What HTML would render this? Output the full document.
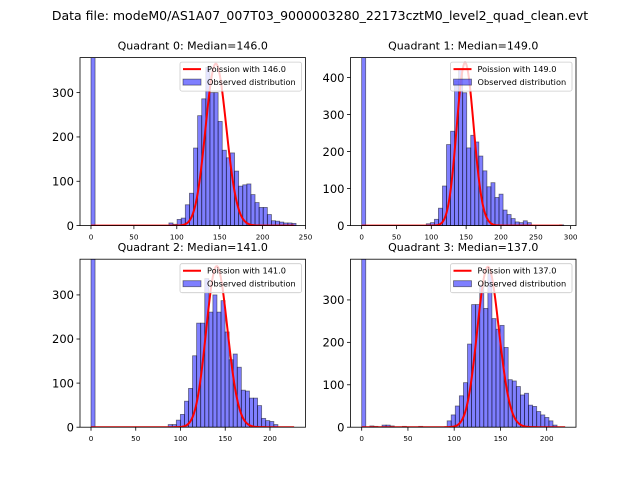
<!DOCTYPE html>
<html><head><meta charset="utf-8"><style>
body{margin:0;background:#fff}
svg{display:block;font-family:"DejaVu Sans","Liberation Sans",sans-serif}
</style></head><body>
<svg id="fig" width="640" height="480" viewBox="0 0 640 480">
<rect width="640" height="480" fill="#fff"/>
<text x="320" y="20" font-size="12.5" text-anchor="middle">Data file: modeM0/AS1A07_007T03_9000003280_22173cztM0_level2_quad_clean.evt</text>
</svg>
<script>
const q0Counts=[2000,0,0,0,0,0,0,0,0,0,0,0,0,0,0,0,0,0,0,6,3,14,17,47,73,175,248,286,357,300,300,235,170,153,164,123,89,92,94,70,52,41,41,25,11,10,8,6,6,5];
const q1Counts=[2000,0,0,0,0,0,0,0,0,0,0,0,0,0,0,0,5,8,17,47,107,219,255,391,422,359,210,244,226,188,148,105,116,76,85,42,30,19,10,8,13,8,0,0,0,0,0,0,0,2];
const q2Counts=[2000,0,0,0,0,0,0,0,0,0,0,0,0,0,0,0,0,0,0,6,6,16,29,59,88,162,236,236,337,261,300,261,287,216,153,166,136,84,82,66,66,49,20,15,13,6,0,0,0,0];
const q3Counts=[2000,0,3,2,0,5,5,3,0,0,2,0,0,0,2,0,0,0,0,0,0,15,29,50,74,105,196,289,289,335,280,362,256,231,240,188,112,109,96,76,80,52,49,37,29,23,15,5,0,0];
const medians=[146.0,149.0,141.0,137.0];
const binWidths=[4.78,5.8,4.54,4.4];
const curvePeaks=[365,440,365,378];
const curveMax=[237,288,227,220];
const xTicks=[[0,50,100,150,200,250],[0,50,100,150,200,250,300],[0,50,100,150,200],[0,50,100,150,200]];
const yTicks=[[0,100,200,300],[0,100,200,300,400],[0,100,200,300],[0,100,200,300]];
const xLims=[[-12.8,250],[-16,307.7],[-12.3,239.7],[-12.1,231.7]];
const yLims=[[0,379],[0,454],[0,381],[0,396]];
const allCounts=[q0Counts,q1Counts,q2Counts,q3Counts];

const NS="http://www.w3.org/2000/svg";
const svg=document.getElementById('fig');
function mk(tag,attrs,parent){const e=document.createElementNS(NS,tag);for(const k in attrs)e.setAttribute(k,attrs[k]);(parent||svg).appendChild(e);return e;}
function lgamma(z){
  if(z<7){let p=1;while(z<7){p*=z;z+=1;}return lgamma(z)-Math.log(p);}
  return (z-0.5)*Math.log(z)-z+0.5*Math.log(2*Math.PI)+1/(12*z)-1/(360*z*z*z);
}
function logPois(k,l){return k*Math.log(l)-l-lgamma(k+1);}

const boxes=[[80,57.6],[350.5,57.6],[80,259.2],[350.5,259.2]];
const W=225.5,H=168;
for(let q=0;q<4;q++){
  const [L,T]=boxes[q];
  const g=mk('g',{});
  
  
  const xs=v=>L+(v-xLims[q][0])/(xLims[q][1]-xLims[q][0])*W;
  const ys=v=>T+H-(v-yLims[q][0])/(yLims[q][1]-yLims[q][0])*H;
  const cp=mk('clipPath',{id:'cp'+q},g);
  mk('rect',{x:L,y:T,width:W,height:H},cp);
  const bars=mk('g',{'clip-path':'url(#cp'+q+')'},g);
  const counts=allCounts[q];
  for(let i=0;i<counts.length;i++){
    if(counts[i]<=0)continue;
    const x0=xs(i*binWidths[q]),x1=xs((i+1)*binWidths[q]);
    const r=mk('rect',{x:x0,y:ys(counts[i]),width:x1-x0,height:ys(0)-ys(counts[i]),fill:'rgba(0,0,255,0.5)',stroke:'rgba(0,0,0,0.5)','stroke-width':0.8},bars);
    
    
  }
  let d='';const lam=medians[q];const lp=logPois(Math.round(lam),lam);
  for(let k=0;k<=curveMax[q];k++){
    const v=curvePeaks[q]*Math.exp(logPois(k,lam)-lp);
    d+=(k?'L':'M')+xs(k).toFixed(2)+','+ys(v).toFixed(2);
  }
  const pl=mk('path',{d:d,fill:'none',stroke:'red','stroke-width':2,'clip-path':'url(#cp'+q+')'},g);
  
  
  mk('rect',{x:L,y:T,width:W,height:H,fill:'none',stroke:'#000','stroke-width':0.8},g);
  xTicks[q].forEach(t=>{
    const x=xs(t);
    mk('line',{x1:x,x2:x,y1:T+H,y2:T+H+3.5,stroke:'#000','stroke-width':0.8},g);
    const tx=mk('text',{x:x,y:T+H+14,'font-size':7.2,'text-anchor':'middle'},g);
    tx.textContent=t;
    
    
  });
  yTicks[q].forEach(t=>{
    const y=ys(t);
    mk('line',{x1:L,x2:L-3.5,y1:y,y2:y,stroke:'#000','stroke-width':0.8},g);
    const ty=mk('text',{x:L-6,y:y+4.2,'font-size':11.5,'text-anchor':'end'},g);
    ty.textContent=t;
    
    
  });
  const tt=mk('text',{x:L+W/2,y:T-8,'font-size':11,'text-anchor':'middle'},g);
  tt.textContent='Quadrant '+q+': Median='+medians[q].toFixed(1);
  
  
  const lg=mk('g',{},g);
  
  
  const lx=L+W-125.5, ly=T+4.5;
  mk('rect',{x:lx,y:ly,width:121.5,height:29,rx:2,fill:'rgba(255,255,255,0.8)',stroke:'#ccc','stroke-width':0.8},lg);
  mk('line',{x1:lx+3,x2:lx+21,y1:ly+7,y2:ly+7,stroke:'red','stroke-width':2},lg);
  const t1=mk('text',{x:lx+27,y:ly+10,'font-size':8.2},lg);
  t1.textContent='Poission with '+medians[q].toFixed(1);
  
  
  mk('rect',{x:lx+3,y:ly+17,width:18,height:6,fill:'rgba(0,0,255,0.5)',stroke:'rgba(0,0,0,0.5)','stroke-width':0.8},lg);
  const t2=mk('text',{x:lx+27,y:ly+23,'font-size':8.2},lg);
  t2.textContent='Observed distribution';
  
  
}
</script>
</body></html>
